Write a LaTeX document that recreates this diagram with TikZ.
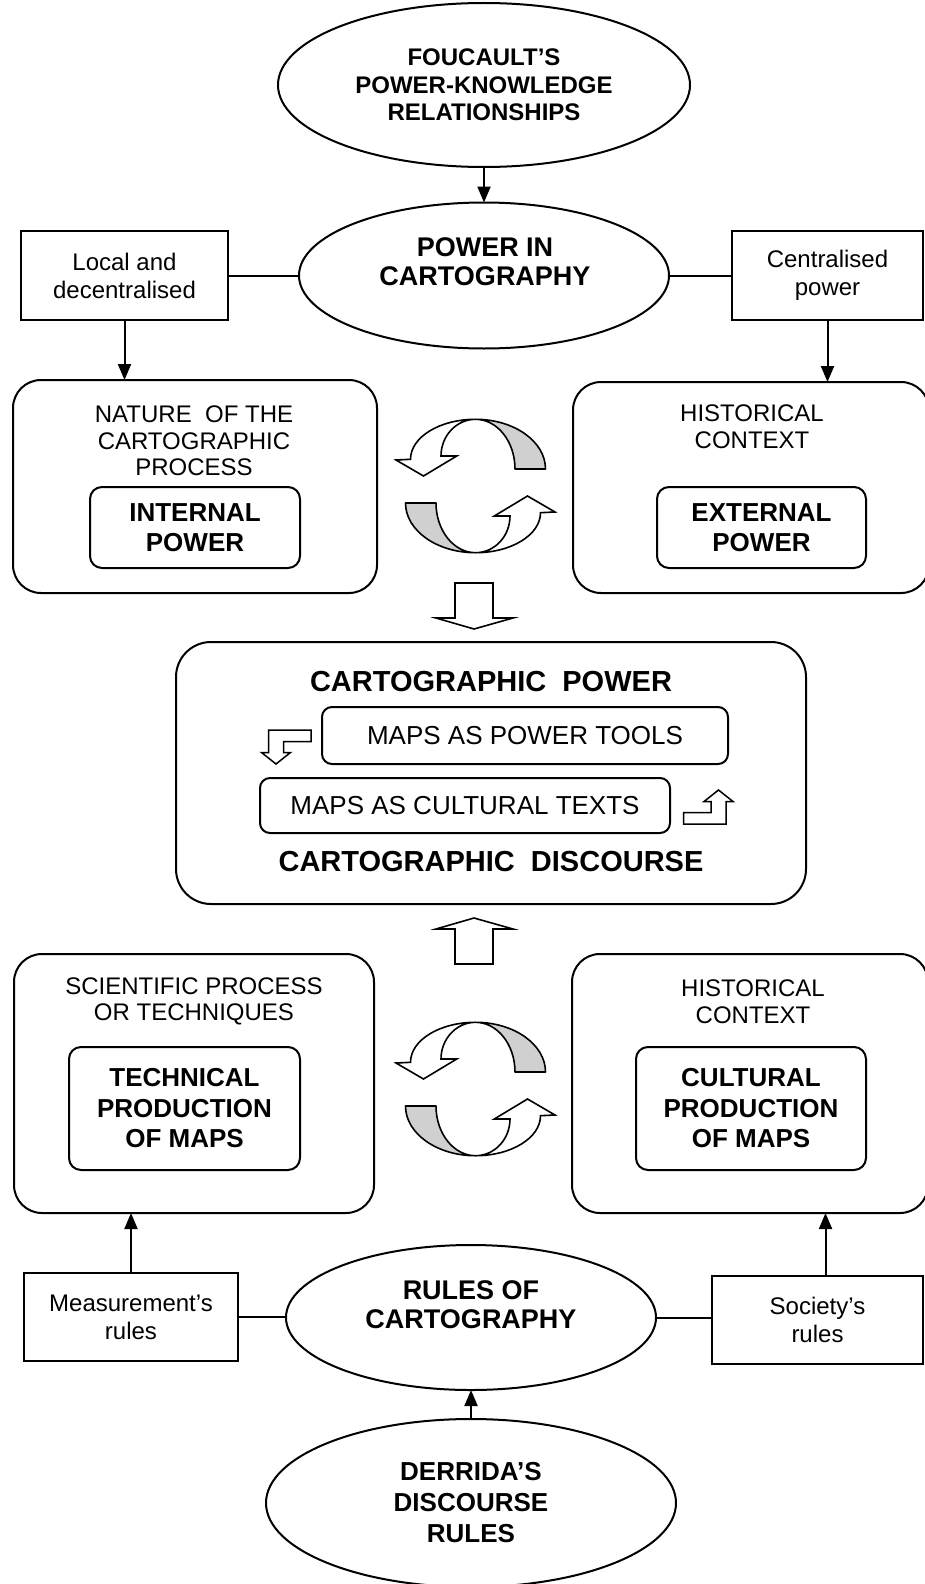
\documentclass[tikz,border=0pt]{standalone}
\usepackage{fontspec}
\setmainfont{Liberation Sans}
\usetikzlibrary{shapes.geometric,arrows.meta,calc}
\definecolor{ribbongrey}{RGB}{208,208,208}

\tikzset{
  % twisted circular ribbon arrow, drawn with y pointing up
  ribbon/.pic={
    \filldraw[fill=ribbongrey, line width=1.6pt, line join=round]
      (39.5,17) -- (70,17)
      arc[start angle=0, end angle=90, x radius=70, y radius=49.7]
      arc[start angle=90, end angle=0, x radius=39.5, y radius=49.7] -- cycle;
    \filldraw[fill=white, line width=1.6pt, line join=miter]
      (0,66.7)
      arc[start angle=90, end angle=180, x radius=65, y radius=40]
      -- (-79.5,26) -- (-52,10) -- (-18.8,30) -- (-34.5,30)
      arc[start angle=180, end angle=90, x radius=34.5, y radius=36.7] -- cycle;
  },
  % small hollow bent arrow, y pointing down
  bentarrow/.pic={
    \filldraw[fill=white, line width=1.5pt, line join=miter]
      (24.5,-17) -- (24.5,-5.5) -- (-3,-5.5) -- (-3,5.5) -- (4,5.5)
      -- (-10.5,17) -- (-25,5.5) -- (-18,5.5) -- (-18,-17) -- cycle;
  }
}

\begin{document}
\begin{tikzpicture}[x=1pt, y=-1pt,
  every node/.style={inner sep=0pt, outer sep=0pt},
  line width=2pt,
  oval/.style={draw, ellipse, align=center, font=\bfseries\fontsize{24}{27.5}\selectfont},
  ovaltext/.style={align=center, font=\bfseries\fontsize{27}{29}\selectfont},
  plainbox/.style={draw, rectangle, align=center, font=\fontsize{24}{28}\selectfont},
  bigbox/.style={draw, rounded corners=28pt},
  corebox/.style={draw, rounded corners=12pt, align=center, font=\bfseries\fontsize{26}{30.5}\selectfont},
  ctxlabel/.style={align=center, font=\fontsize{24}{26.5}\selectfont},
  mapbox/.style={draw, rounded corners=10pt, font=\fontsize{26}{30}\selectfont},
  headline/.style={font=\bfseries\fontsize{29}{32}\selectfont},
  link/.style={-{Triangle[length=16pt,width=13pt]}},
  hollow/.style={draw, fill=white, line width=1.6pt, line join=miter},
]
\useasboundingbox (0,0) rectangle (925,1584);

% ---- top: Foucault and power in cartography
\node[oval, minimum width=412pt, minimum height=164pt] (foucault) at (484,85)
  {FOUCAULT’S\\POWER-KNOWLEDGE\\RELATIONSHIPS};
\node[oval, minimum width=370pt, minimum height=146pt] (power) at (484,275.5) {};
\node[ovaltext] (powertext) at (485,261.5) {POWER IN\\CARTOGRAPHY};
\node[plainbox, minimum width=207pt, minimum height=89pt] (local) at (124.5,275.5)
  {Local and\\decentralised};
\node[plainbox, minimum width=191pt, minimum height=89pt] (central) at (827.5,275.5)
  {Centralised\\power};

% ---- internal / external power
\node[bigbox, minimum width=364pt, minimum height=213pt] (leftbig) at (195,486.5) {};
\node[ctxlabel] (natlabel) at (194,441) {NATURE\ \ OF THE\\CARTOGRAPHIC\\PROCESS};
\node[corebox, minimum width=210pt, minimum height=81pt] (internal) at (195,527.5)
  {INTERNAL\\POWER};

\node[bigbox, minimum width=356pt, minimum height=211pt] (rightbig) at (751,487.5) {};
\node[ctxlabel] (histlabel) at (752,426.5) {HISTORICAL\\CONTEXT};
\node[corebox, minimum width=209pt, minimum height=81pt] (external) at (761.5,527.5)
  {EXTERNAL\\POWER};

% ---- cartographic power / discourse
\node[draw, rounded corners=35pt, minimum width=630pt, minimum height=262pt] (cartobox) at (491,773) {};
\node[headline] (cpower) at (491,682) {CARTOGRAPHIC\ \ POWER};
\node[mapbox, minimum width=406pt, minimum height=57pt] (tools) at (525,735.5)
  {MAPS AS POWER TOOLS};
\node[mapbox, minimum width=410pt, minimum height=55pt] (texts) at (465,805.5)
  {MAPS AS CULTURAL TEXTS};
\node[headline] (cdiscourse) at (491,862) {CARTOGRAPHIC\ \ DISCOURSE};

% ---- technical / cultural production
\node[bigbox, minimum width=360pt, minimum height=259pt] (lowleft) at (194,1083.5) {};
\node[ctxlabel] (scilabel) at (194,1001.5) {SCIENTIFIC PROCESS\\OR TECHNIQUES};
\node[corebox, minimum width=231pt, minimum height=123pt] (technical) at (184.5,1108.5)
  {TECHNICAL\\PRODUCTION\\OF MAPS};

\node[bigbox, minimum width=356pt, minimum height=259pt] (lowright) at (750,1083.5) {};
\node[ctxlabel] (hist2label) at (753,1001.5) {HISTORICAL\\CONTEXT};
\node[corebox, minimum width=230pt, minimum height=123pt] (cultural) at (751,1108.5)
  {CULTURAL\\PRODUCTION\\OF MAPS};

% ---- bottom: rules of cartography and Derrida
\node[plainbox, minimum width=214pt, minimum height=88pt] (measure) at (131,1317)
  {Measurement’s\\rules};
\node[plainbox, minimum width=211pt, minimum height=88pt] (society) at (817.5,1320)
  {Society’s\\rules};
\node[oval, minimum width=370pt, minimum height=145pt] (rules) at (471,1317.5) {};
\node[ovaltext] (rulestext) at (471,1305) {RULES OF\\CARTOGRAPHY};
\node[oval, font=\bfseries\fontsize{26}{31}\selectfont, minimum width=410pt, minimum height=168pt]
  (derrida) at (471,1503) {DERRIDA’S\\DISCOURSE\\RULES};

% ---- connectors
\draw[link] (foucault.south) -- (power.north);
\draw (local.east) -- (power.west);
\draw (power.east) -- (central.west);
\draw[link] (local.south) -- (local.south |- leftbig.north);
\draw[link] (central.south) -- (central.south |- rightbig.north);
\draw (measure.east) -- (measure.east -| rules.west);
\draw (rules.east) -- (rules.east -| society.west);
\draw[link] (measure.north) -- (measure.north |- lowleft.south);
\coordinate (socup) at ($(society.north)+(8,0)$);
\draw[link] (socup) -- (socup |- lowright.south);
\draw[link] (derrida.north) -- (rules.south);

% ---- hollow block arrows
\draw[hollow] (455,583) -- (493,583) -- (493,618) -- (513,618) -- (474,629)
  -- (436,618) -- (455,618) -- cycle;
\draw[hollow] (455,964) -- (493,964) -- (493,929) -- (513,929) -- (474,918)
  -- (436,929) -- (455,929) -- cycle;

% ---- circular ribbon arrows
\pic[yscale=-1] at (475.5,486) {ribbon};
\pic[yscale=-1, rotate=180] at (475.5,486) {ribbon};
\pic[yscale=-1] at (475.5,1089) {ribbon};
\pic[yscale=-1, rotate=180] at (475.5,1089) {ribbon};

% ---- bent arrows beside the map boxes
\pic at (286.5,747) {bentarrow};
\pic[rotate=180] at (708,807) {bentarrow};
\end{tikzpicture}
\end{document}
